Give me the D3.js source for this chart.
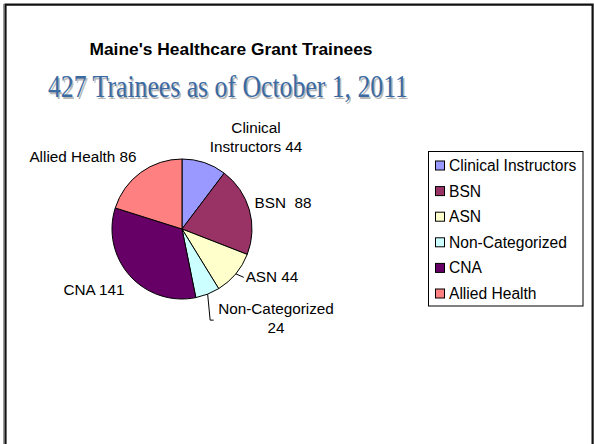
<!DOCTYPE html>
<html>
<head>
<meta charset="utf-8">
<script src="https://cdn.jsdelivr.net/npm/d3@7"></script>
<style>
  body { margin: 0; background: #fff; }
  svg { display: block; }
</style>
</head>
<body>
<svg width="594" height="444"></svg>
<script>
// data
const categories = ["Clinical Instructors", "BSN", "ASN", "Non-Categorized", "CNA", "Allied Health"];
const values = [44, 88, 44, 24, 141, 86];
const labelLines = [["Clinical", "Instructors 44"], ["BSN\u00A0 88"], ["ASN 44"], ["Non-Categorized", "24"], ["CNA 141"], ["Allied Health 86"]];
const colors = ["#9999FF", "#993366", "#FFFFCC", "#CCFFFF", "#660066", "#FF8080"];

const svg = d3.select("svg");
const cx = 182, cy = 229, r = 70;

// frame of the slide
svg.append("line").attr("x1", 3.5).attr("y1", 4).attr("x2", 3.5).attr("y2", 444)
  .attr("stroke", "#999").attr("stroke-width", 1);
svg.append("path").attr("d", "M5.5,444V4.7H592.6V444")
  .attr("fill", "none").attr("stroke", "#111").attr("stroke-width", 2.2);

// titles
svg.append("text").attr("x", 231).attr("y", 55)
  .attr("text-anchor", "middle")
  .attr("font-family", "Arial, 'Liberation Sans', sans-serif")
  .attr("font-weight", "bold").attr("font-size", 16.5)
  .attr("textLength", 283).attr("lengthAdjust", "spacingAndGlyphs")
  .text("Maine's Healthcare Grant Trainees");

const sub = "427 Trainees as of October 1, 2011";
svg.append("text").attr("x", 229.5).attr("y", 98.5)
  .attr("text-anchor", "middle")
  .attr("font-family", "'Liberation Serif', 'Times New Roman', serif")
  .attr("font-size", 31.5).attr("fill", "#b8b8b8")
  .attr("textLength", 360).attr("lengthAdjust", "spacingAndGlyphs")
  .text(sub);
svg.append("text").attr("x", 228).attr("y", 97)
  .attr("text-anchor", "middle")
  .attr("font-family", "'Liberation Serif', 'Times New Roman', serif")
  .attr("font-size", 31.5).attr("fill", "#3B6AA3")
  .attr("textLength", 360).attr("lengthAdjust", "spacingAndGlyphs")
  .text(sub);

// pie
const pie = d3.pie().sort(null).value((d) => d)(values);
const arc = d3.arc().innerRadius(0).outerRadius(r);

const g = svg.append("g").attr("transform", `translate(${cx},${cy})`);
g.selectAll("path")
  .data(pie)
  .join("path")
  .attr("d", arc)
  .attr("fill", (d, i) => colors[i])
  .attr("stroke", "#000")
  .attr("stroke-width", 1);

// label placement (offset of the text centre from the pie centre)
const labelOffset = [[74, -92], [101, -26], [90, 48], [94, 89], [-88, 61], [-99, -72]];
const lineH = 19;

const labels = g.selectAll("g.lbl")
  .data(pie)
  .join("g")
  .attr("class", "lbl");

labels.each(function (d, i) {
  const lines = labelLines[i];
  const [ox, oy] = labelOffset[i];
  const t = d3.select(this).append("text")
    .attr("text-anchor", "middle")
    .attr("font-family", "Arial, 'Liberation Sans', sans-serif")
    .attr("font-size", 15.3)
    .attr("fill", "#000");
  lines.forEach((s, k) => {
    t.append("tspan")
      .attr("x", ox)
      .attr("y", oy + 5 + (k - (lines.length - 1) / 2) * lineH)
      .text(s);
  });
});

// leader lines for the small slices
function edge(d) {
  const a = (d.startAngle + d.endAngle) / 2;
  return [Math.sin(a) * r, -Math.cos(a) * r];
}
// ASN
{
  const p = edge(pie[2]);
  g.append("path")
    .attr("d", `M${p[0]},${p[1]}L${p[0] + 8},${p[1] + 3.5}`)
    .attr("fill", "none").attr("stroke", "#000").attr("stroke-width", 1);
}
// Non-Categorized
{
  const p = edge(pie[3]);
  g.append("path")
    .attr("d", `M${p[0]},${p[1]}L${p[0] + 2.5},${p[1] + 26}H${p[0] + 6}`)
    .attr("fill", "none").attr("stroke", "#000").attr("stroke-width", 1);
}

// legend
const lg = svg.append("g").attr("transform", "translate(428.5,151.5)");
lg.append("rect").attr("width", 154.5).attr("height", 154.5)
  .attr("fill", "#fff").attr("stroke", "#000").attr("stroke-width", 1);

const y = d3.scalePoint().domain(categories).range([14, 142]);
const item = lg.selectAll("g.item")
  .data(categories)
  .join("g")
  .attr("class", "item")
  .attr("transform", (d) => `translate(0,${y(d)})`);
item.append("rect")
  .attr("x", 7).attr("y", -4.5).attr("width", 9).attr("height", 9)
  .attr("fill", (d, i) => colors[i])
  .attr("stroke", "#000").attr("stroke-width", 1);
item.append("text")
  .attr("x", 20.5).attr("y", 5.5)
  .attr("font-family", "Arial, 'Liberation Sans', sans-serif")
  .attr("font-size", 15.6)
  .text((d) => d);
</script>
</body>
</html>
